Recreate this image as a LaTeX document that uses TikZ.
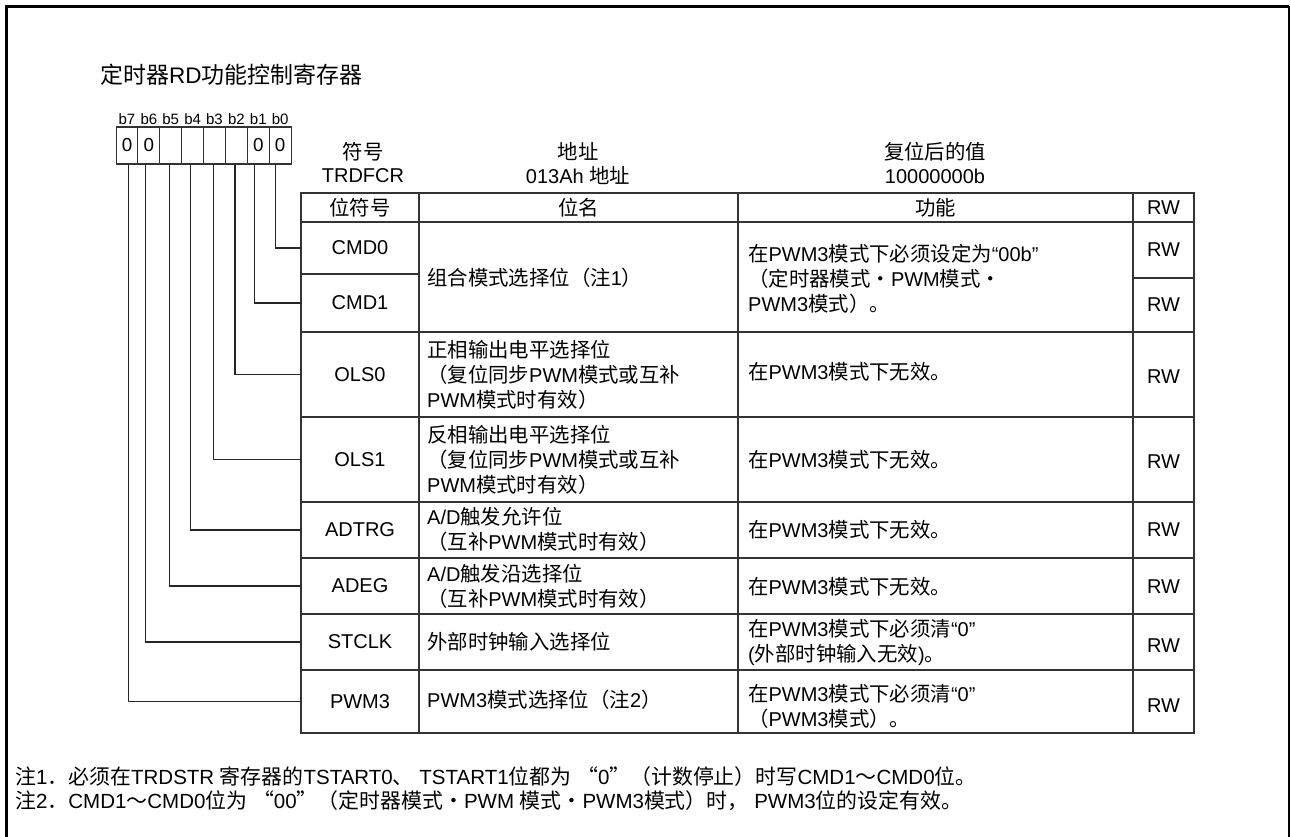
\documentclass[tikz,border=0pt]{standalone}
\usepackage{fontspec}
\setmainfont{Liberation Sans}
\newfontfamily\cjk[Scale=1.02]{Noto Sans CJK SC}
\XeTeXinterchartokenstate=1
\newXeTeXintercharclass\CJKcls
\newcount\cjkc
\def\setcjkrange#1#2{\cjkc=#1\relax\loop\XeTeXcharclass\cjkc=\CJKcls\relax\ifnum\cjkc<#2\relax\advance\cjkc by 1\relax\repeat}
\setcjkrange{"4E00}{"9FFF}
\setcjkrange{"3000}{"303F}
\setcjkrange{"30FB}{"30FB}
\setcjkrange{"FF00}{"FFEF}
\XeTeXinterchartoks 0 \CJKcls = {\cjk}
\XeTeXinterchartoks 4095 \CJKcls = {\cjk}
\XeTeXinterchartoks \CJKcls 0 = {\rmfamily}
\XeTeXinterchartoks \CJKcls 4095 = {\rmfamily}
\tikzset{
  cellbox/.style={draw=black!80, line width=1.1pt, rectangle, inner sep=0pt, outer sep=0pt},
  namecell/.style={cellbox, minimum width=118},
  bitcell/.style={cellbox, minimum width=21.875, minimum height=37, font=\fontsize{18.8}{20}\selectfont},
  bitlbl/.style={inner sep=0pt, font=\fontsize{15}{16}\selectfont},
  txt/.style={inner sep=0pt, font=\fontsize{20}{25}\selectfont},
  ltxt/.style={txt, anchor=west, align=left},
  notetxt/.style={inner sep=0pt, anchor=west, font=\fontsize{20.5}{24}\selectfont},
  lead/.style={draw=black!85, line width=1.1pt},
}
\begin{document}
\begin{tikzpicture}[x=1pt, y=-1pt, font=\fontsize{20}{25}\selectfont]
\useasboundingbox (0,0) rectangle (1291,837);
% frame
\draw[line width=3pt] (6,837) -- (6,7) -- (1289,7);
\draw[line width=2pt] (1289,6) -- (1289,837);
% title
\node[txt, anchor=west, font=\fontsize{22.5}{26}\selectfont] (title) at (100,75) {定时器RD功能控制寄存器};
% bit labels and cells
\foreach \i/\lab/\val in {0/b7/0,1/b6/0,2/b5/,3/b4/,4/b3/,5/b2/,6/b1/0,7/b0/0}{
  \node[bitlbl] (l\lab) at (127+21.875*\i,119) {\lab};
  \node[bitcell] (\lab) at (127+21.875*\i,145.5) {\val};
}
% header labels
\node[txt] (sym1) at (363,152) {符号};
\node[txt] (sym2) at (363,176) {TRDFCR};
\node[txt] (adr1) at (578,152) {地址};
\node[txt] (adr2) at (578,176) {013Ah 地址};
\node[txt] (rst1) at (935,152) {复位后的值};
\node[txt] (rst2) at (935,176) {10000000b};
% header row
\node[namecell, minimum height=29] (h1) at (360,207.5) {位符号};
\node[cellbox, minimum width=319, minimum height=29] (h2) at (578.5,207.5) {位名};
\node[cellbox, minimum width=395, minimum height=29] (h3) at (935.5,207.5) {功能};
\node[cellbox, minimum width=61, minimum height=29] (h4) at (1163.5,207.5) {RW};
% column 1
\node[namecell, minimum height=52] (c0) at (360,248) {CMD0};
\node[namecell, minimum height=58] (c1) at (360,303) {CMD1};
\node[namecell, minimum height=85] (c2) at (360,374.5) {OLS0};
\node[namecell, minimum height=85] (c3) at (360,459.5) {OLS1};
\node[namecell, minimum height=56] (c4) at (360,530) {ADTRG};
\node[namecell, minimum height=56] (c5) at (360,586) {ADEG};
\node[namecell, minimum height=56] (c6) at (360,642) {STCLK};
\node[namecell, minimum height=63] (c7) at (360,701.5) {PWM3};
% column 2 and 3 cells
\foreach \n/\y/\h in {01/277/110,2/374.5/85,3/459.5/85,4/530/56,5/586/56,6/642/56,7/701.5/63}{
  \node[cellbox, minimum width=319, minimum height=\h] (m\n) at (578.5,\y) {};
  \node[cellbox, minimum width=395, minimum height=\h] (f\n) at (935.5,\y) {};
}
% RW cells
\node[cellbox, minimum width=61, minimum height=56] (r0) at (1163.5,250) {RW};
\node[cellbox, minimum width=61, minimum height=54] (r1) at (1163.5,305) {RW};
\node[cellbox, minimum width=61, minimum height=85] (r2) at (1163.5,374.5) {};
\node[cellbox, minimum width=61, minimum height=85] (r3) at (1163.5,459.5) {};
\node[cellbox, minimum width=61, minimum height=56] (r4) at (1163.5,530) {};
\node[cellbox, minimum width=61, minimum height=56] (r5) at (1163.5,586) {};
\node[cellbox, minimum width=61, minimum height=56] (r6) at (1163.5,642) {};
\node[cellbox, minimum width=61, minimum height=63] (r7) at (1163.5,701.5) {};
\node[txt] (rw2) at (1163.5,377) {RW};
\node[txt] (rw3) at (1163.5,462) {RW};
\node[txt] (rw4) at (1163.5,530) {RW};
\node[txt] (rw5) at (1163.5,587) {RW};
\node[txt] (rw6) at (1163.5,646) {RW};
\node[txt] (rw7) at (1163.5,706) {RW};
% bit names
\node[ltxt] (n01) at (427,278) {组合模式选择位（注1）};
\node[ltxt] (n2) at (427,375) {正相输出电平选择位\\（复位同步PWM模式或互补\\PWM模式时有效）};
\node[ltxt] (n3) at (427,460) {反相输出电平选择位\\（复位同步PWM模式或互补\\PWM模式时有效）};
\node[ltxt] (n4) at (427,529) {A/D触发允许位\\（互补PWM模式时有效）};
\node[ltxt] (n5) at (427,586) {A/D触发沿选择位\\（互补PWM模式时有效）};
\node[ltxt] (n6) at (427,642) {外部时钟输入选择位};
\node[ltxt] (n7) at (427,700) {PWM3模式选择位（注2）};
% functions
\node[ltxt] (g01) at (748,279) {在PWM3模式下必须设定为“00b”\\（定时器模式・PWM模式・\\PWM3模式）。};
\node[ltxt] (g2) at (748,372) {在PWM3模式下无效。};
\node[ltxt] (g3) at (748,460) {在PWM3模式下无效。};
\node[ltxt] (g4) at (748,530) {在PWM3模式下无效。};
\node[ltxt] (g5) at (748,587) {在PWM3模式下无效。};
\node[ltxt] (g6) at (748,642.5) {在PWM3模式下必须清“0”\\(外部时钟输入无效)。};
\node[ltxt] (g7) at (748,706) {在PWM3模式下必须清“0”\\（PWM3模式）。};
% leaders
\draw[lead] ([xshift=-4.4pt]b0.south) |- (c0.west);
\draw[lead] ([xshift=-3.9pt]b1.south) |- (c1.west);
\draw[lead] ([xshift=-1.4pt]b2.south) |- (c2.west);
\draw[lead] ([xshift=-1.2pt]b3.south) |- (c3.west);
\draw[lead] ([xshift=-1.9pt]b4.south) |- (c4.west);
\draw[lead] ([xshift=-1.7pt]b5.south) |- (c5.west);
\draw[lead] ([xshift=-3.2pt]b6.south) |- (c6.west);
\draw[lead] ([xshift=1.3pt]b7.south) |- (c7.west);
% notes
\node[notetxt] (note1) at (15,777) {注1．必须在TRDSTR 寄存器的TSTART0、 TSTART1位都为 {\cjk “}0{\cjk ”}（计数停止）时写CMD1～CMD0位。};
\node[notetxt] (note2) at (15,801) {注2．CMD1～CMD0位为 {\cjk “}00{\cjk ”}（定时器模式・PWM 模式・PWM3模式）时， PWM3位的设定有效。};
\end{tikzpicture}
\end{document}
